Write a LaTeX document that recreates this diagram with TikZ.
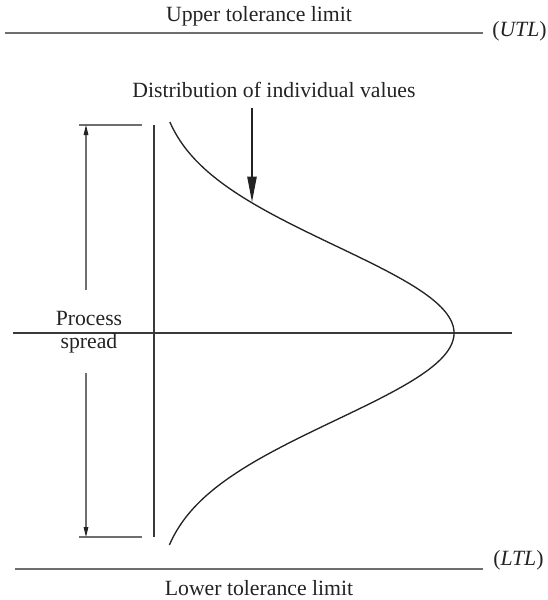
\documentclass[tikz,border=0pt]{standalone}
\usepackage{fontspec}
\setmainfont{Liberation Serif}
\usepackage{tikz}
\usetikzlibrary{arrows.meta, positioning, calc}
\definecolor{ink}{RGB}{35, 35, 35}
\definecolor{inkgrey}{RGB}{110, 110, 110}

\begin{document}
\begin{tikzpicture}[
    x=0.75pt, y=-0.75pt,
    label/.style={font=\fontsize{16.3}{19}\selectfont\color{ink}, inner sep=0pt},
    limit/.style={color=inkgrey, line width=1.1pt},
    axis/.style={color=ink!90, line width=0.9pt},
    curve/.style={color=ink, line width=1pt},
    bar/.style={color=inkgrey, line width=1pt},
    dim/.style={-{Triangle[length=7.5pt, width=3.5pt, color=ink]}, color=inkgrey, line width=0.8pt},
    arr/.style={-{Triangle[length=19pt, width=7pt]}, color=ink, line width=1pt},
  ]
    \useasboundingbox (0,0) rectangle (548,600);

    % tolerance limits
    \draw[limit] (5,33) -- (483,33);
    \node[label, anchor=base] (utl) at (259,21) {Upper tolerance limit};
    \node[label, anchor=west] (utlabbr) at (492,31) {(\textit{UTL})};

    \draw[limit] (15,569) -- (483,569);
    \node[label, anchor=base] (ltl) at (259,595) {Lower tolerance limit};
    \node[label, anchor=west] (ltlabbr) at (493,560) {(\textit{LTL})};

    % axes
    \draw[axis] (13,333) -- (512,333);
    \draw[axis] (154,125) -- (154,537);

    % distribution of individual values
    \draw[curve] plot[domain=-211:212, samples=90, smooth, variable=\t]
      ({154+300*exp(-0.5*(\t/87)*(\t/87))}, {333+\t});
    \node[label, anchor=base] (dist) at (274,97) {Distribution of individual values};
    \coordinate (hit) at (252,202);
    \draw[arr] (252,108) -- (hit);

    % process spread
    \coordinate (top) at (79,125);
    \coordinate (bot) at (79,537);
    \draw[bar] (top) -- ++(63,0);
    \draw[bar] (bot) -- ++(63,0);
    \node[label, anchor=base] (proc) at (89,325) {Process};
    \node[label, anchor=base] (spread) at (89,348) {spread};
    \draw[dim] (86,290) -- (86,125);
    \draw[dim] (86,373) -- (86,537);

  \end{tikzpicture}
\end{document}
